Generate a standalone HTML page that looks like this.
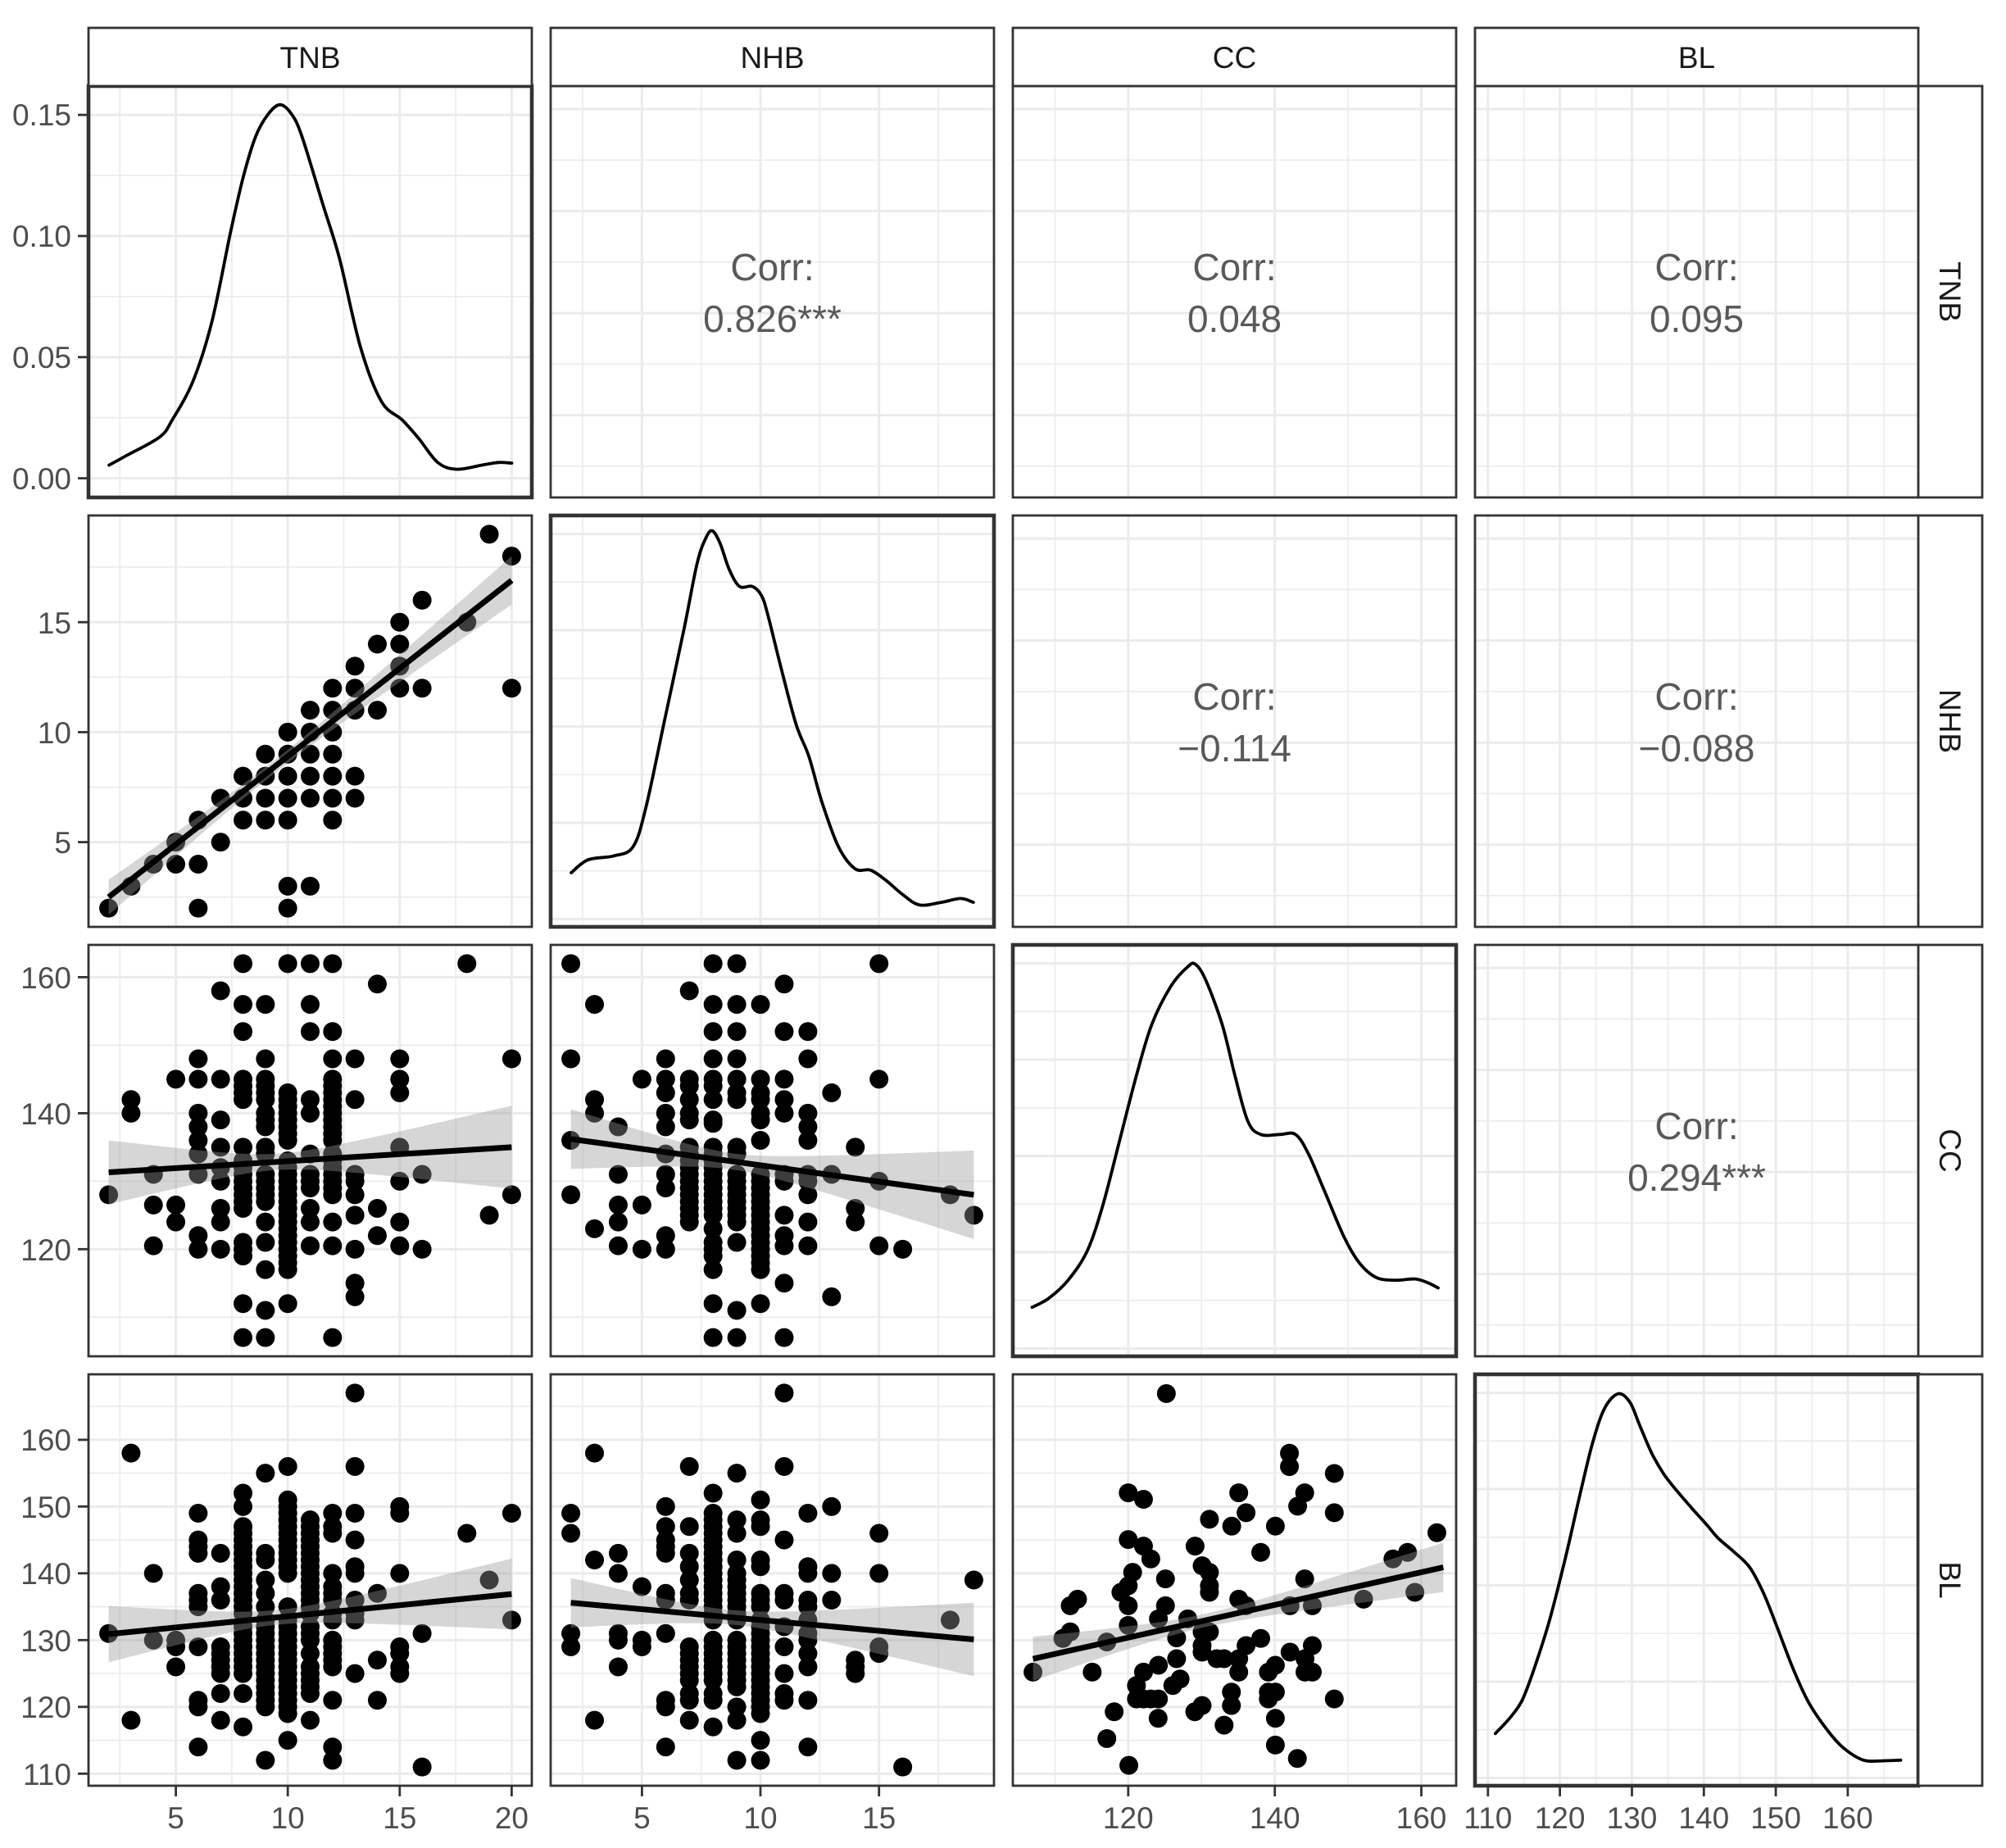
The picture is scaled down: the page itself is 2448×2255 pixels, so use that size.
<!DOCTYPE html>
<html><head><meta charset="utf-8">
<style>
html,body{margin:0;padding:0;background:#fff;}
svg{display:block;}
.tk{font-family:"Liberation Sans",Arial,sans-serif;font-size:37px;fill:#4d4d4d;}
.st{font-family:"Liberation Sans",Arial,sans-serif;font-size:37px;fill:#1a1a1a;}
.cr{font-family:"Liberation Sans",Arial,sans-serif;font-size:46px;fill:#595959;}
</style></head>
<body>
<svg id="s" xmlns="http://www.w3.org/2000/svg" width="2448" height="2255" viewBox="0 0 2448 2255">
<rect width="2448" height="2255" fill="#fff"/>
<g id="g"></g>
<g class="st" text-anchor="middle">
<text x="378.5" y="83">TNB</text>
<text x="942.5" y="83">NHB</text>
<text x="1506.5" y="83">CC</text>
<text x="2070.5" y="83">BL</text>
<text transform="translate(2367,356) rotate(90)">TNB</text>
<text transform="translate(2367,880) rotate(90)">NHB</text>
<text transform="translate(2367,1404) rotate(90)">CC</text>
<text transform="translate(2367,1928) rotate(90)">BL</text>
</g>
<g class="cr" text-anchor="middle">
<text x="942.5" y="342">Corr:</text><text x="942.5" y="405">0.826***</text>
<text x="1506.5" y="342">Corr:</text><text x="1506.5" y="405">0.048</text>
<text x="2070.5" y="342">Corr:</text><text x="2070.5" y="405">0.095</text>
<text x="1506.5" y="866">Corr:</text><text x="1506.5" y="929">−0.114</text>
<text x="2070.5" y="866">Corr:</text><text x="2070.5" y="929">−0.088</text>
<text x="2070.5" y="1390">Corr:</text><text x="2070.5" y="1453">0.294***</text>
</g>
<g class="tk" text-anchor="end">
<text x="87" y="597">0.00</text><text x="87" y="449">0.05</text><text x="87" y="301">0.10</text><text x="87" y="153">0.15</text>
<text x="87" y="1041">5</text><text x="87" y="907">10</text><text x="87" y="773">15</text>
<text x="87" y="1538">120</text><text x="87" y="1372">140</text><text x="87" y="1206">160</text>
<text x="87" y="2178">110</text><text x="87" y="2096">120</text><text x="87" y="2015">130</text><text x="87" y="1933">140</text><text x="87" y="1852">150</text><text x="87" y="1770">160</text>
</g>
<g class="tk" text-anchor="middle">
<text x="214.6" y="2231">5</text><text x="351.2" y="2231">10</text><text x="487.8" y="2231">15</text><text x="624.4" y="2231">20</text>
<text x="783.4" y="2231">5</text><text x="928" y="2231">10</text><text x="1072.7" y="2231">15</text>
<text x="1376.8" y="2231">120</text><text x="1555.7" y="2231">140</text><text x="1734.5" y="2231">160</text>
<text x="1815.8" y="2231">110</text><text x="1903.6" y="2231">120</text><text x="1991.5" y="2231">130</text><text x="2079.3" y="2231">140</text><text x="2167.1" y="2231">150</text><text x="2254.9" y="2231">160</text>
</g>
</svg>
<script>
(function(){
var NS="http://www.w3.org/2000/svg",G=document.getElementById("g");
function el(t,a){var e=document.createElementNS(NS,t);for(var k in a)e.setAttribute(k,a[k]);G.appendChild(e);return e;}
var colX=[108,672,1236,1800],rowY=[105,629,1153,1677],PW=541,PH=502;
var S=[[1.1,20.9],[1.15,19.85],[104.25,164.75],[108.2,169.8]];
var DENS=[-0.0079,0.1619];
function X(c,v){var s=S[c];return colX[c]+(v-s[0])/(s[1]-s[0])*PW;}
function Y(r,v){var s=S[r];return rowY[r]+PH-(v-s[0])/(s[1]-s[0])*PH;}
var xmaj=[[5,10,15,20],[5,10,15],[120,140,160],[110,120,130,140,150,160]];
var xmin=[[2.5,7.5,12.5,17.5],[2.5,7.5,12.5,17.5],[110,130,150],[115,125,135,145,155,165]];
function grid(r,c){
  var x0=colX[c],y0=rowY[r];
  xmin[c].forEach(function(v){var x=X(c,v);if(x>x0&&x<x0+PW)el("line",{x1:x,x2:x,y1:y0,y2:y0+PH,stroke:"#ebebeb","stroke-width":1.6});});
  xmaj[c].forEach(function(v){var x=X(c,v);el("line",{x1:x,x2:x,y1:y0,y2:y0+PH,stroke:"#ebebeb","stroke-width":3});});
  if(r===0&&c===0){
    [0.025,0.075,0.125].forEach(function(v){var y=rowY[0]+PH-(v-DENS[0])/(DENS[1]-DENS[0])*PH;el("line",{x1:x0,x2:x0+PW,y1:y,y2:y,stroke:"#ebebeb","stroke-width":1.6});});
    [0,0.05,0.1,0.15].forEach(function(v){var y=rowY[0]+PH-(v-DENS[0])/(DENS[1]-DENS[0])*PH;el("line",{x1:x0,x2:x0+PW,y1:y,y2:y,stroke:"#ebebeb","stroke-width":3});});
  } else if(r>c){
    xmin[r].forEach(function(v){var y=Y(r,v);if(y>y0&&y<y0+PH)el("line",{x1:x0,x2:x0+PW,y1:y,y2:y,stroke:"#ebebeb","stroke-width":1.6});});
    xmaj[r].forEach(function(v){var y=Y(r,v);el("line",{x1:x0,x2:x0+PW,y1:y,y2:y,stroke:"#ebebeb","stroke-width":3});});
  } else {
    var st=0.056,sp=0.124;
    if(r===c){st=0.045;sp=0.117;}
    for(var k=0;;k++){var f=st+k*sp;if(f>0.99)break;var y=y0+f*PH;el("line",{x1:x0,x2:x0+PW,y1:y,y2:y,stroke:"#ebebeb","stroke-width":(k%2? 1.6:3)});}
  }
}
function range(a,b){var o=[];for(var i=a;i<=b;i++)o.push(i);return o;}
var R=11.5;
function pts(r,c,d){
  for(var k in d){var xv=+k;d[k].forEach(function(yv){el("circle",{cx:X(c,xv),cy:Y(r,yv),r:R,fill:"#000"});});}
}
function smooth(r,c,xa,ya,xb,yb,h0,h1,m,hmin){
  var up=[],dn=[];
  var bl=(h0*h0-hmin*hmin)/Math.pow(xa-m,2),br=(h1*h1-hmin*hmin)/Math.pow(xb-m,2);
  for(var i=0;i<=60;i++){var x=xa+(xb-xa)*i/60,y=ya+(yb-ya)*(x-xa)/(xb-xa);
    var b=x<m?bl:br,h=Math.sqrt(hmin*hmin+b*(x-m)*(x-m));
    up.push(X(c,x).toFixed(1)+","+Y(r,y+h).toFixed(1));dn.unshift(X(c,x).toFixed(1)+","+Y(r,y-h).toFixed(1));}
  el("polygon",{points:up.concat(dn).join(" "),fill:"#999999","fill-opacity":0.4});
  el("line",{x1:X(c,xa),y1:Y(r,ya),x2:X(c,xb),y2:Y(r,yb),stroke:"#000","stroke-width":7});
}
function curve(p){
  var d="M"+p[0][0].toFixed(1)+","+p[0][1].toFixed(1);
  for(var i=0;i<p.length-1;i++){
    var p0=p[i>0?i-1:i],p1=p[i],p2=p[i+1],p3=p[i+2<p.length?i+2:i+1];
    var c1x=p1[0]+(p2[0]-p0[0])/6,c1y=p1[1]+(p2[1]-p0[1])/6,c2x=p2[0]-(p3[0]-p1[0])/6,c2y=p2[1]-(p3[1]-p1[1])/6;
    d+=" C"+c1x.toFixed(1)+","+c1y.toFixed(1)+" "+c2x.toFixed(1)+","+c2y.toFixed(1)+" "+p2[0].toFixed(1)+","+p2[1].toFixed(1);
  }
  el("path",{d:d,fill:"none",stroke:"#000","stroke-width":3.8,"stroke-linejoin":"round","stroke-linecap":"round"});
}
function frame(r,c){el("rect",{x:colX[c],y:rowY[r],width:PW,height:PH,fill:"none",stroke:"#333","stroke-width":(r===c?4.6:2.8)});}

for(var r=0;r<4;r++)for(var c=0;c<4;c++)grid(r,c);

pts(1,0,{2:[2],3:[3],4:[4],5:[4,5],6:[4,6,2],7:[5,7],8:[6,7,8],9:[6,7,8,9],10:[2,3,6,7,8,9,10],11:[3,7,8,9,10,11],12:[6,7,8,9,10,11,12],13:[7,8,11,12,13],14:[11,14],15:[12,13,14,15],16:[12,16],18:[15],19:[19],20:[12,18]});
smooth(1,0,2,2.5,20,16.9,0.8,1.1,9.5,0.3);
pts(2,0,{2:[128],3:[142,140],4:[131,126.5,120.5],5:[145,126.5,124],6:[148,145,140,138,136,134,131,122,120],7:[158,145,139,135,132,130,126,124,120],
8:[162,156,152,145,144,143,142,135,133,132,131,130,129,128,127,126,121,120,119,112,107],
9:[156,148,145,144,143,142,140,139,138,135,134,131,130,129,128,127,124,121,117,111,107],
10:[162].concat(range(136,143),range(117,133),[112]),
11:[162,156,152,142,140,134,131,130,129,126,124,120.5],
12:[162,152,148].concat(range(136,145),range(128,134),[124,120.5,107]),
13:[148,142,131,130,128,125,120,115,113],14:[159,126,122],15:[148,145,143,135,130,124,120.5],16:[131,120],18:[162],19:[125],20:[148,128]});
smooth(2,0,2,131.3,20,135,4.7,6.1,9.5,1.2);
pts(2,1,{2:[162,148,136,128],3:[156,142,140,123],4:[138,131,126.5,124,120.5],5:[145,126.5,120],6:[148,145,143,140,138,134,131,129,122,120],
7:[158,145,144,142,140,139].concat(range(124,135)),
8:[162,156,152,148,145,144,142,139,138.5].concat(range(125,135),[123,121,120,119,117,112,107]),
9:[162,156,152,148,145,143,142,135,134].concat(range(124,131),[121,111,107]),
10:[156,145,143,142,140,139,136].concat(range(117,131),[112]),
11:[159,152,145,142,140,131,130,125,122,120.5,115,107],12:[152,148,140,138,136,131,130,128,124,120.5],13:[143,131,113],14:[135,126,124],15:[162,145,130,120.5],16:[120],18:[128],19:[125]});
smooth(2,1,2,136.2,19,128,4.4,6.5,8.8,1.2);
pts(3,0,{2:[131],3:[158,118],4:[140,130],5:[130,129,126],6:[149,145,144,143,137,136,135,129,121,120,114],7:[143,138,136,129,128,127,126,125,122,118],
8:range(134,147).concat([150,152],range(125,132),[122,117]),
9:[155,143,142,139,137,135].concat(range(120,133),[112]),
10:[156].concat(range(140,151),[135],range(119,133),[115]),
11:range(134,148).concat([132,131,130,128,126,125,124,123,122,118]),
12:[149,147,146,140,138,137,136,134,133,130,129,128,127,126,121,114,112],
13:[167,156,149,145,141,140,136,134,133,125],14:[137,127,121],15:[150,149,140,129,128,126,125],16:[131,111],18:[146],19:[139],20:[149,133]});
smooth(3,0,2,130.9,20,136.9,4.2,5.3,9.5,1.1);
pts(3,1,{2:[149,146,131,129],3:[158,142,118],4:[143,140,131,130,126],5:[138,130,129],6:[150,147,145,144,143,137,136,131,121,120,114],
7:[156,147,143,141,139,137,136,129,128,127,126,125,124,122,121,118],
8:range(133,149).concat([152],range(124,130),[122,121,117]),
9:[155,148,146,142,140].concat(range(133,139),range(123,130),[120,118,112]),
10:[151,148,147,142,141,137,136,135].concat(range(119,133),[115,112]),
11:[167,156,145,137,136,132,129,125,122,121],12:[149,141,140,136,135,133,131,130,128,126,121,114],13:[150,140,136],14:[127,126,125],15:[146,140,129,128],16:[111],18:[133],19:[139]});
smooth(3,1,2,135.6,19,130.1,3.7,5.5,8.8,1.1);
var z=[[510,50],[930,250],[930,295],[1083,318],[380,383],[432,405],[757,383],[982,383],[958,428],[782,450],[1083,450],[657,472],[733,495],[882,495],[1433,517],[380,540],[432,562],[608,562],[457,605],[832,583],[1283,605],[1333,583],[632,628],[657,650],[395,650],[507,672],[982,672],[657,695],[657,717],[380,695],[355,717],[757,740],[207,740],[182,762],[380,762],[507,762],[782,762],[932,762],[1008,762],[1183,740],[1358,717],[483,806],[583,806],[380,828],[182,850],[157,872],[307,884],[545,870],[632,850],[657,850],[832,872],[782,896],[632,896],[632,918],[1008,896],[932,918],[682,940],[707,940],[757,940],[983,940],[483,962],[545,940],[858,985],[882,962],[55,985],[257,985],[432,985],[757,985],[983,985],[1008,985],[408,1030],[532,1030],[557,1008],[408,1075],[432,1075],[457,1075],[483,1075],[732,1052],[858,1052],[882,1052],[858,1075],[1083,1075],[607,1118],[632,1097],[732,1097],[332,1118],[482,1140],[882,1140],[707,1163],[307,1208],[882,1230],[957,1275],[382,1298]];
z.forEach(function(p){var xv=120+(p[0]-380)/25,yv=160-(p[1]-205)/22.42;el("circle",{cx:X(2,xv),cy:Y(3,yv),r:R,fill:"#000"});});
smooth(3,2,107,127.2,163,140.9,3.3,3.7,130,1.0);

var tnb=[[259,1368],[300,1340],[380,1285],[410,1235],[460,1120],[505,945],[550,680],[580,520],[610,400],[640,335],[668,308],[695,335],[720,400],[770,600],[810,760],[860,1020],[910,1180],[960,1235],[1000,1290],[1045,1360],[1090,1380],[1150,1368],[1190,1360],[1222,1362]];
curve(tnb.map(function(p){return [p[0]/1.96+1,p[1]/2.41];}));
function frac(list,ax,aw,ay,ah,r,c){return list.map(function(p){return [colX[c]+(p[0]-ax)/aw*PW,rowY[r]+(p[1]-ay)/ah*PH];});}
var nhb=[[447,680],[460,670],[480,667],[495,660],[505,630],[520,560],[535,490],[545,440],[552,420],[557,415],[563,425],[570,445],[578,458],[588,458],[595,465],[600,480],[610,520],[622,565],[632,590],[642,625],[655,660],[668,677],[680,678],[692,686],[705,697],[718,705],[735,703],[750,700],[760,703]];
curve(frac(nhb,431,345,403,319,1,1));
var cc=[[807,1019],[820,1012],[835,998],[850,975],[862,940],[875,890],[888,840],[900,800],[915,770],[928,755],[934,753],[942,765],[955,800],[965,840],[975,875],[985,885],[1000,885],[1012,885],[1022,900],[1035,930],[1050,965],[1062,985],[1075,996],[1090,998],[1105,997],[1115,1000],[1123,1004]];
curve(frac(cc,792,345,738,319,2,2));
var bl=[[262,1232],[300,1185],[330,1135],[360,1045],[400,900],[440,720],[480,520],[510,380],[540,280],[575,237],[605,262],[630,330],[660,410],[690,470],[720,515],[765,575],[800,620],[830,660],[870,700],[910,745],[945,820],[980,920],[1020,1040],[1060,1140],[1110,1225],[1150,1275],[1200,1310],[1250,1312],[1295,1310]];
curve(frac(bl,210,1130,180,1205,3,3));

for(var r=0;r<4;r++)for(var c=0;c<4;c++)frame(r,c);
for(var c=0;c<4;c++)el("rect",{x:colX[c],y:34,width:PW,height:71,fill:"#fff",stroke:"#333","stroke-width":2.8});
for(var r=0;r<4;r++)el("rect",{x:2341,y:rowY[r],width:78,height:PH,fill:"#fff",stroke:"#333","stroke-width":2.8});
[583.6,435.8,288,140.2,1027.6,893.4,759.2,1524.3,1358.4,1192.4,2164.3,2082.8,2001.3,1919.8,1838.3,1756.9].forEach(function(y){el("line",{x1:95,x2:108,y1:y,y2:y,stroke:"#333","stroke-width":2.8});});
[214.6,351.2,487.8,624.4,783.4,928,1072.7,1376.8,1555.7,1734.5,1815.8,1903.6,1991.5,2079.3,2167.1,2254.9].forEach(function(x){el("line",{x1:x,x2:x,y1:2179,y2:2192,stroke:"#333","stroke-width":2.8});});
})();
</script>
</body></html>
